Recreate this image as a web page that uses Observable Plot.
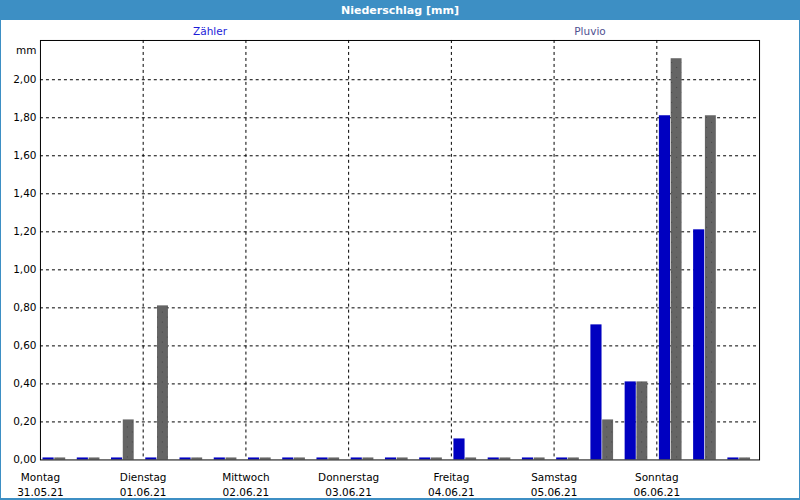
<!DOCTYPE html>
<html>
<head>
<meta charset="utf-8">
<script src="https://cdn.jsdelivr.net/npm/d3@7"></script>
<script src="https://cdn.jsdelivr.net/npm/@observablehq/plot@0.6"></script>
<style>
  html, body { margin: 0; padding: 0; background: #ffffff; }
  #win { position: relative; width: 798px; height: 498px; border-left: 1px solid #3d8fc4; border-right: 1px solid #3d8fc4; border-bottom: 2px solid #3d8fc4; background: #fff; overflow: hidden; font-family: "DejaVu Sans", sans-serif; }
  #title { position: absolute; left: -1px; top: 0; width: 800px; height: 20px; background: #3d8fc4; color: #fff; font-weight: bold; font-size: 11px; text-align: center; line-height: 21px; }
  .leg { position: absolute; top: 25px; font-size: 10.5px; transform: translateX(-50%); white-space: nowrap; }
  #chart { position: absolute; left: -1px; top: 20px; }
</style>
</head>
<body>
<div id="win">
  <div id="title">Niederschlag [mm]</div>
  <div class="leg" style="left:209px;color:#1c1cd8">Zähler</div>
  <div class="leg" style="left:589px;color:#505090">Pluvio</div>
  <div id="chart"></div>
</div>
<script>
// ---- data ----
const dayNames = ["Montag", "Dienstag", "Mittwoch", "Donnerstag", "Freitag", "Samstag", "Sonntag"];
const dayDates = ["31.05.21", "01.06.21", "02.06.21", "03.06.21", "04.06.21", "05.06.21", "06.06.21"];
const dayStarts = ["2021-05-31", "2021-06-01", "2021-06-02", "2021-06-03", "2021-06-04", "2021-06-05", "2021-06-06"];
const rangeEnd = "2021-06-07";
const periodStarts = [
  "2021-05-31T00:00", "2021-05-31T08:00", "2021-05-31T16:00",
  "2021-06-01T00:00", "2021-06-01T08:00", "2021-06-01T16:00",
  "2021-06-02T00:00", "2021-06-02T08:00", "2021-06-02T16:00",
  "2021-06-03T00:00", "2021-06-03T08:00", "2021-06-03T16:00",
  "2021-06-04T00:00", "2021-06-04T08:00", "2021-06-04T16:00",
  "2021-06-05T00:00", "2021-06-05T08:00", "2021-06-05T16:00",
  "2021-06-06T00:00", "2021-06-06T08:00", "2021-06-06T16:00"
];
const zaehler = [0, 0, 0,   0, 0, 0,   0, 0, 0,   0, 0, 0,   0.1, 0, 0,   0, 0.7, 0.4,   1.8, 1.2, 0];
const pluvio  = [0, 0, 0.2, 0.8, 0, 0, 0, 0, 0,   0, 0, 0,   0, 0, 0,     0, 0.2, 0.4,   2.1, 1.8, 0];
const yTicks = [0, 0.2, 0.4, 0.6, 0.8, 1.0, 1.2, 1.4, 1.6, 1.8, 2.0];

// ---- build ----
const utc = s => new Date(s + (s.length > 10 ? ":00Z" : "T00:00:00Z"));
const H = 3600 * 1000;
const shift = (t, h) => new Date(+t + h * H);
const table = periodStarts.map((p, i) => ({t: utc(p), z: zaehler[i], p: pluvio[i]}));
const dayTicks = dayStarts.map(utc);
const dayLabel = new Map(dayTicks.map((d, i) => [+d, dayNames[i] + "\n" + dayDates[i]]));

const chart = Plot.plot({
  width: 800,
  height: 480,
  marginLeft: 40,
  marginRight: 40,
  marginTop: 20,
  marginBottom: 40,
  style: {fontFamily: "DejaVu Sans, sans-serif", fontSize: "10.5px", color: "black", background: "transparent"},
  x: {type: "utc", domain: [utc(dayStarts[0]), utc(rangeEnd)]},
  y: {domain: [0, 2.2065]},
  marks: [
    Plot.gridY(yTicks.slice(1), {stroke: "black", strokeOpacity: 1, strokeDasharray: "3,3"}),
    Plot.gridX(dayTicks.slice(1), {stroke: "black", strokeOpacity: 1, strokeDasharray: "3,3"}),
    Plot.rectY(table, {x1: d => shift(d.t, 0.6), x2: d => shift(d.t, 3.2), y: "z", fill: "#0000c0", insetTop: -2}),
    Plot.rectY(table, {x1: d => shift(d.t, 3.35), x2: d => shift(d.t, 5.9), y: "p", fill: "url(#dots)", insetTop: -2}),
    Plot.frame({stroke: "black"}),
    Plot.axisY(yTicks, {tickFormat: d => d.toFixed(2).replace(".", ","), tickSize: 0, tickPadding: 4, label: null}),
    Plot.axisX(dayTicks, {tickFormat: d => dayLabel.get(+d), tickSize: 0, tickPadding: 10, lineHeight: 1.43, label: null}),
    Plot.text(["mm"], {frameAnchor: "top-left", dx: -4, dy: 6, textAnchor: "end"})
  ]
});

const ns = "http://www.w3.org/2000/svg";
const defs = document.createElementNS(ns, "defs");
defs.innerHTML = '<pattern id="dots" width="10" height="10" patternUnits="userSpaceOnUse">' +
  '<rect width="10" height="10" fill="#656565"/>' +
  '<rect x="2" y="2" width="1" height="1" fill="#444444"/>' +
  '<rect x="7" y="7" width="1" height="1" fill="#444444"/></pattern>';
chart.insertBefore(defs, chart.firstChild);
document.getElementById("chart").appendChild(chart);
</script>
</body>
</html>
